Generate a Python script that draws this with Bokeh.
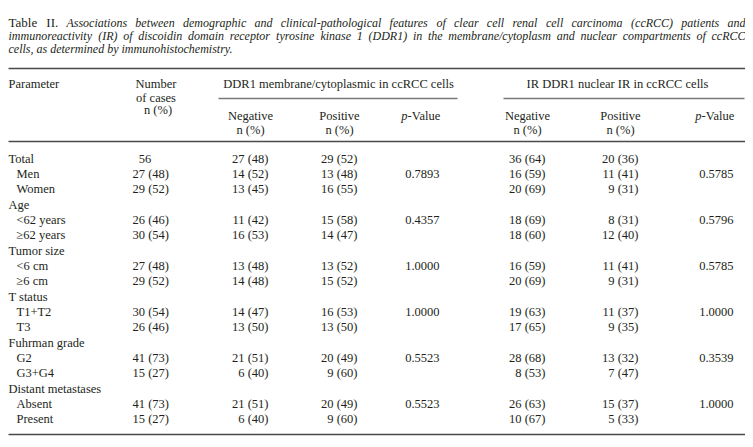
from bokeh.plotting import figure
from bokeh.models import Range1d
from bokeh.core.properties import value
from bokeh.embed import file_html
from bokeh.resources import INLINE

# ---------------- data ----------------
title_lead = "Table II."
title_line1 = ("Associations between demographic and clinical-pathological features of clear "
               "cell renal cell carcinoma (ccRCC) patients and")
title_line2 = ("immunoreactivity (IR) of discoidin domain receptor tyrosine kinase 1 (DDR1) in the "
               "membrane/cytoplasm and nuclear compartments of ccRCC")
title_line3 = "cells, as determined by immunohistochemistry."

group_headers = ["DDR1 membrane/cytoplasmic in ccRCC cells", "IR DDR1 nuclear IR in ccRCC cells"]

parameters = ["Total", "Men", "Women", "Age", "<62 years", "\u226562 years", "Tumor size",
              "<6 cm", "\u22656 cm", "T status", "T1+T2", "T3", "Fuhrman grade", "G2",
              "G3+G4", "Distant metastases", "Absent", "Present"]
indent = [0, 1, 1, 0, 1, 1, 0, 1, 1, 0, 1, 1, 0, 1, 1, 0, 1, 1]
n_cases = ["\u200256", "27 (48)", "29 (52)", "", "26 (46)", "30 (54)", "", "27 (48)", "29 (52)",
           "", "30 (54)", "26 (46)", "", "41 (73)", "15 (27)", "", "41 (73)", "15 (27)"]
mem_neg = ["27 (48)", "14 (52)", "13 (45)", "", "11 (42)", "16 (53)", "", "13 (48)", "14 (48)",
           "", "14 (47)", "13 (50)", "", "21 (51)", "6 (40)", "", "21 (51)", "6 (40)"]
mem_pos = ["29 (52)", "13 (48)", "16 (55)", "", "15 (58)", "14 (47)", "", "13 (52)", "15 (52)",
           "", "16 (53)", "13 (50)", "", "20 (49)", "9 (60)", "", "20 (49)", "9 (60)"]
mem_p = ["", "0.7893", "", "", "0.4357", "", "", "1.0000", "", "", "1.0000", "", "",
         "0.5523", "", "", "0.5523", ""]
nuc_neg = ["36 (64)", "16 (59)", "20 (69)", "", "18 (69)", "18 (60)", "", "16 (59)", "20 (69)",
           "", "19 (63)", "17 (65)", "", "28 (68)", "8 (53)", "", "26 (63)", "10 (67)"]
nuc_pos = ["20 (36)", "11 (41)", "9 (31)", "", "8 (31)", "12 (40)", "", "11 (41)", "9 (31)",
           "", "11 (37)", "9 (35)", "", "13 (32)", "7 (47)", "", "15 (37)", "5 (33)"]
nuc_p = ["", "0.5785", "", "", "0.5796", "", "", "0.5785", "", "", "1.0000", "", "",
         "0.3539", "", "", "1.0000", ""]

# ---------------- styling / layout ----------------
FONT = "Liberation Serif"
FS = 12.5          # table text
FS_T = 12.0        # italic caption text
FS_LEAD = 13.0     # "Table II."
TXT = "#231f20"
RULE = "#4a4a4a"
SUBRULE = "#7a7a7a"

ROMAN = {' ': 250, '(': 333, ')': 333, ',': 250, '-': 333, '.': 250, '/': 278,
         'A': 722, 'B': 667, 'C': 667, 'D': 722, 'E': 611, 'F': 556, 'G': 722, 'H': 722, 'I': 333,
         'J': 389, 'K': 722, 'L': 611, 'M': 889, 'N': 722, 'O': 722, 'P': 556, 'Q': 722, 'R': 667,
         'S': 556, 'T': 611, 'U': 722, 'V': 722, 'W': 944, 'X': 722, 'Y': 722, 'Z': 611,
         'a': 444, 'b': 500, 'c': 444, 'd': 500, 'e': 444, 'f': 333, 'g': 500, 'h': 500, 'i': 278,
         'j': 278, 'k': 500, 'l': 278, 'm': 778, 'n': 500, 'o': 500, 'p': 500, 'q': 500, 'r': 333,
         's': 389, 't': 278, 'u': 500, 'v': 500, 'w': 722, 'x': 500, 'y': 500, 'z': 444}
ITALIC = {' ': 250, '(': 333, ')': 333, ',': 250, '-': 333, '.': 250, '/': 278,
          'A': 611, 'B': 611, 'C': 667, 'D': 722, 'E': 611, 'F': 611, 'G': 722, 'H': 722, 'I': 333,
          'J': 444, 'K': 667, 'L': 556, 'M': 833, 'N': 667, 'O': 722, 'P': 611, 'Q': 722, 'R': 611,
          'S': 500, 'T': 556, 'U': 722, 'V': 611, 'W': 833, 'X': 611, 'Y': 556, 'Z': 556,
          'a': 500, 'b': 500, 'c': 444, 'd': 500, 'e': 444, 'f': 278, 'g': 500, 'h': 500, 'i': 278,
          'j': 278, 'k': 444, 'l': 278, 'm': 722, 'n': 500, 'o': 500, 'p': 500, 'q': 500, 'r': 389,
          's': 389, 't': 278, 'u': 500, 'v': 444, 'w': 667, 'x': 444, 'y': 444, 'z': 389}


def tw(s, italic=False, size=FS):
    table = ITALIC if italic else ROMAN
    return sum(table.get(c, 500) for c in s) * size / 1000.0


W, H = 745, 439
X0, X1 = 8, 745
p = figure(width=W, height=H, x_range=Range1d(0, W), y_range=Range1d(H, 0),
           output_backend="svg", toolbar_location=None, x_axis_location=None,
           y_axis_location=None, min_border=0)
p.outline_line_color = None
p.xgrid.visible = False
p.ygrid.visible = False
p.background_fill_color = "white"
p.border_fill_color = "white"


def put(xs, ys, texts, align="left", italic=False, size=FS):
    keep = [(x, y, t) for x, y, t in zip(xs, ys, texts) if t]
    if not keep:
        return
    p.text(x=[k[0] for k in keep], y=[k[1] for k in keep], text=[k[2] for k in keep],
           text_align=align, text_baseline="middle", text_font=value(FONT),
           text_font_size=f"{size}px", text_font_style="italic" if italic else "normal",
           text_color=TXT)


# ---- caption (justified lines) ----
TY = [22, 35, 48]
words1 = [(w, False) for w in title_lead.split()] + [(w, True) for w in title_line1.split()]
words2 = [(w, True) for w in title_line2.split()]
rx, ry, rt, ix, iy, it = [], [], [], [], [], []
for words, y in ((words1, TY[0]), (words2, TY[1])):
    widths = [tw(w, ital, FS_T if ital else FS_LEAD) for w, ital in words]
    gap = (X1 - X0 - sum(widths)) / (len(words) - 1)
    x = X0
    for (w, ital), wd in zip(words, widths):
        if ital:
            ix.append(x); iy.append(y); it.append(w)
        else:
            rx.append(x); ry.append(y); rt.append(w)
        x += wd + gap
ix.append(X0); iy.append(TY[2]); it.append(title_line3)
put(rx, ry, rt, size=FS_LEAD)
put(ix, iy, it, italic=True, size=FS_T)

# ---- rules ----
Y_TOP, Y_HEAD, Y_BOT = 68, 141, 434
p.segment(x0=[X0] * 3, x1=[X1] * 3, y0=[Y_TOP, Y_HEAD, Y_BOT], y1=[Y_TOP, Y_HEAD, Y_BOT],
          line_color=RULE, line_width=1.4)
Y_SUB = 98
p.segment(x0=[218, 503], x1=[457, 744], y0=[Y_SUB, Y_SUB], y1=[Y_SUB, Y_SUB],
          line_color=SUBRULE, line_width=1.4)

# ---- header ----
H1, H2, H3 = 83, 115, 129
put([X0], [H1], ["Parameter"])
put([155.5, 155.5, 157.5], [H1, 97, 109], ["Number", "of cases", "n (%)"], align="center")
put([338, 617], [H1, H1], group_headers, align="center")
col_c = [250, 339, 527, 620]
put(col_c, [H2] * 4, ["Negative", "Positive", "Negative", "Positive"], align="center")
put(col_c, [H3] * 4, ["n (%)"] * 4, align="center")
for cx in (421, 715):
    wp = tw("p", True)
    wv = tw("-Value")
    left = cx - (wp + wv) / 2
    put([left], [H2], ["p"], italic=True)
    put([left + wp], [H2], ["-Value"])

# ---- body ----
ROW0, DY = 158, 15.35
ys = [ROW0 + i * DY for i in range(len(parameters))]
put([X0 + 8 * lv for lv in indent], ys, parameters)
put([132] * len(ys), ys, n_cases)
put([268] * len(ys), ys, mem_neg, align="right")
put([357] * len(ys), ys, mem_pos, align="right")
put([439] * len(ys), ys, mem_p, align="right")
put([545] * len(ys), ys, nuc_neg, align="right")
put([638] * len(ys), ys, nuc_pos, align="right")
put([733] * len(ys), ys, nuc_p, align="right")

open("out.html", "w").write(file_html(p, INLINE))
